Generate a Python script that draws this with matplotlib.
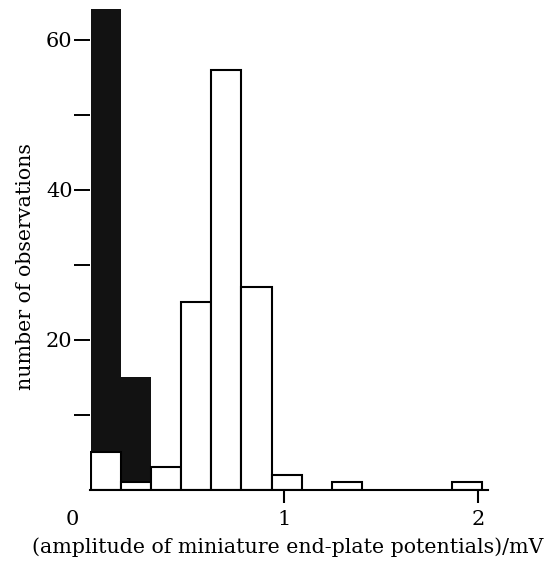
import matplotlib
matplotlib.use("Agg")
import matplotlib.pyplot as plt

# histogram bins (mV)
bin_start = 0.005
bin_width = 0.155

# open bars: miniature end-plate potentials per bin
mepp_counts = [5, 1, 3, 25, 56, 27, 2, 0, 1, 0, 0, 0, 1]
# filled bars: noise counts in the first two bins (first one runs off scale)
noise_counts = [80, 15]

x_ticks = [1, 2]
y_major = [20, 40, 60]
y_minor = [10, 30, 50]

plt.rcParams['font.family'] = ['DejaVu Serif']

fig = plt.figure(figsize=(5.45, 5.62), dpi=100)
ax = fig.add_axes([90 / 545, 72 / 562, 398 / 545, 481 / 562])

lefts = [bin_start + i * bin_width for i in range(len(mepp_counts))]
ax.bar(lefts[:len(noise_counts)], noise_counts, width=bin_width, align='edge',
       color='#121212', edgecolor='none', zorder=1)

shown = [(x, c) for x, c in zip(lefts, mepp_counts) if c > 0]
ax.bar([s[0] for s in shown], [s[1] for s in shown], width=bin_width, align='edge',
       facecolor='white', edgecolor='black', linewidth=1.5, zorder=2)

ax.set_xlim(0, 2.05)
ax.set_ylim(0, 64.1)

for side in ('top', 'right', 'left'):
    ax.spines[side].set_visible(False)
ax.spines['bottom'].set_linewidth(1.5)
ax.spines['bottom'].set_zorder(3)

ax.set_xticks(x_ticks)
ax.set_xticklabels([str(t) for t in x_ticks])
ax.set_yticks(y_major)
ax.set_yticklabels([str(t) for t in y_major])
ax.set_yticks(y_minor, minor=True)
ax.tick_params(axis='x', direction='out', length=9.4, width=1.5, pad=4.8, labelsize=15)
ax.tick_params(axis='y', which='both', direction='out', length=11.5, width=1.4,
               pad=1, labelsize=15)
ax.annotate('0', xy=(0, 0), xycoords='data', xytext=(-13, -14.2),
            textcoords='offset points', ha='center', va='top', fontsize=15)

ax.set_xlabel('(amplitude of miniature end-plate potentials)/mV', fontsize=14.8)
ax.xaxis.set_label_coords(0.497, -0.098)
ax.set_ylabel('number of observations', fontsize=14.8)
ax.yaxis.set_label_coords(-0.138, 0.465)

fig.savefig('out.png', dpi=100)
